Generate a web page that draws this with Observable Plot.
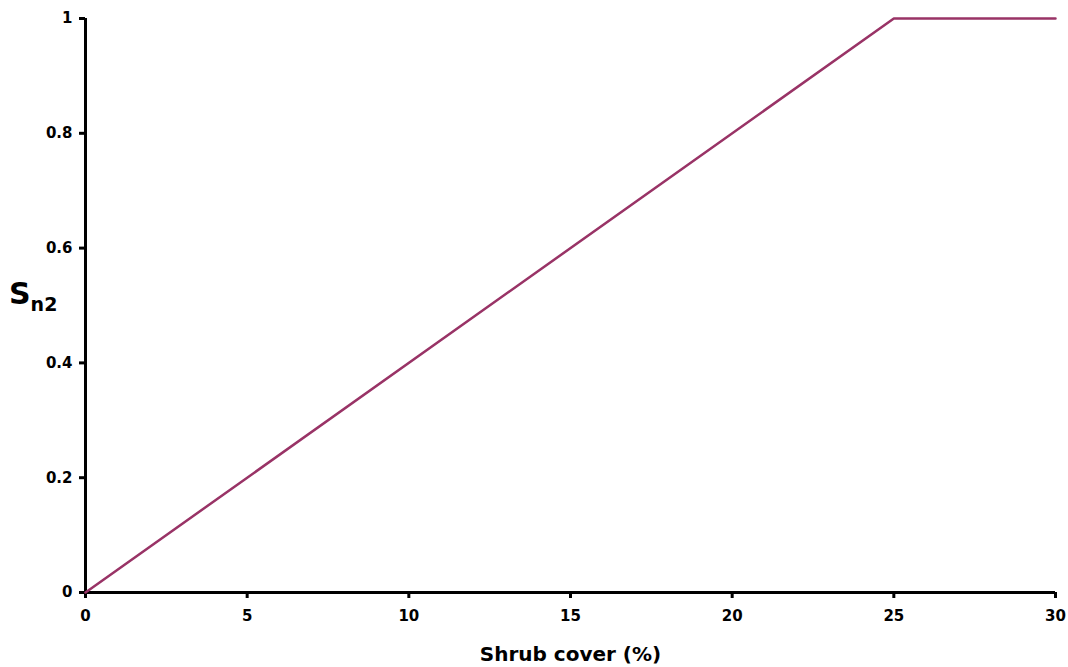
<!DOCTYPE html>
<html><head><meta charset="utf-8">
<script src="https://cdn.jsdelivr.net/npm/d3@7"></script>
<script src="https://cdn.jsdelivr.net/npm/@observablehq/plot@0.6"></script>
<style>
body{margin:0;background:#fff;}
</style></head>
<body><div id="chart"></div>
<script>
const shrubCover = [0, 25, 30];
const sn2 = [0, 1, 1];
const xTicks = [0, 5, 10, 15, 20, 25, 30];
const yTicks = [0, 0.2, 0.4, 0.6, 0.8, 1];
const data = shrubCover.map((x, i) => ({x, y: sn2[i]}));

const W = 1068, H = 667;
const font = "'DejaVu Sans', Verdana, sans-serif";
const chart = Plot.plot({
  width: W, height: H,
  marginLeft: 85, marginRight: 13, marginTop: 18, marginBottom: 75,
  style: {fontFamily: font, fontWeight: "bold", color: "#000", background: "#fff"},
  x: {domain: [0, 30]},
  y: {domain: [0, 1]},
  marks: [
    Plot.axisX({ticks: xTicks, tickSize: 6, strokeWidth: 3, label: null, tickFormat: () => ""}),
    Plot.axisY({ticks: yTicks, tickSize: 6, strokeWidth: 3, label: null, tickFormat: () => ""}),
    Plot.text(xTicks, {x: d => d, frameAnchor: "bottom", dy: 24, lineAnchor: "middle", fontSize: 15, fontWeight: "bold", fill: "#000", fontFamily: font}),
    Plot.text(yTicks, {y: d => d, text: d => String(d), frameAnchor: "left", dx: -13, textAnchor: "end", lineAnchor: "middle", fontSize: 15, fontWeight: "bold", fill: "#000", fontFamily: font}),
    Plot.ruleX([0], {strokeWidth: 3, stroke: "#000"}),
    Plot.ruleY([0], {strokeWidth: 3, stroke: "#000"}),
    Plot.line(data, {x: "x", y: "y", stroke: "#993366", strokeWidth: 2.5}),
    Plot.text(["Shrub cover (%)"], {frameAnchor: "bottom", dy: 62, lineAnchor: "middle", fontSize: 20, fontWeight: "bold", fill: "#000", fontFamily: font})
  ]
});
document.getElementById("chart").appendChild(chart);
const svg = d3.select(chart);
const lab = svg.append("text")
  .attr("x", 9).attr("y", 304)
  .attr("text-anchor", "start")
  .attr("font-family", font)
  .attr("font-weight", "bold").attr("fill", "#000");
lab.append("tspan").attr("font-size", 30).text("S");
lab.append("tspan").attr("font-size", 19).attr("dy", 7).text("n2");
</script></body></html>
